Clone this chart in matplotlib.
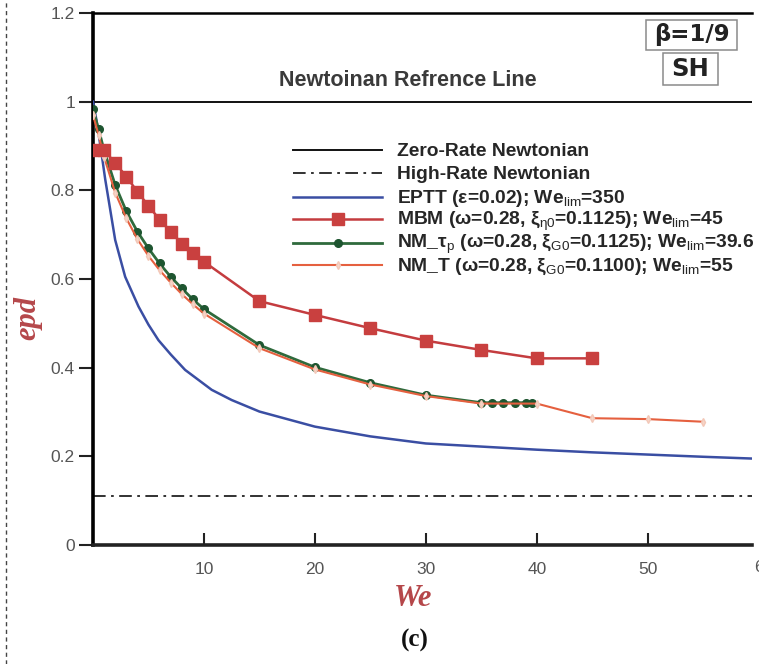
import matplotlib
matplotlib.use("Agg")
import matplotlib.pyplot as plt
from matplotlib.lines import Line2D
from matplotlib.patches import Rectangle

plt.rcParams['mathtext.fontset'] = 'custom'
plt.rcParams['mathtext.rm'] = 'Liberation Sans'
plt.rcParams['mathtext.it'] = 'Liberation Sans:italic'
plt.rcParams['mathtext.bf'] = 'Liberation Sans:bold'
plt.rcParams['font.family'] = ['Liberation Sans', 'DejaVu Sans']

# ---------------- data ----------------
eptt_we = [0, 0.3, 0.55, 0.81, 1.1, 1.41, 2.0, 2.9, 4.1, 5.0, 5.9, 7.0, 8.3, 10.7, 12.5,
           15, 20, 25, 30, 35, 40, 45, 50, 55, 59.4]
eptt_epd = [1.0, 0.96, 0.92, 0.876, 0.825, 0.778, 0.688, 0.605, 0.538, 0.497, 0.462,
            0.43, 0.395, 0.35, 0.327, 0.301, 0.267, 0.245, 0.229, 0.222, 0.215, 0.209,
            0.204, 0.199, 0.195]

mbm_we = [0, 1, 2, 3, 4, 5, 6, 7, 8, 9, 10, 15, 20, 25, 30, 35, 40, 45]
mbm_epd = [0.89, 0.89, 0.862, 0.831, 0.797, 0.765, 0.734, 0.707, 0.68, 0.659, 0.639,
           0.55, 0.519, 0.489, 0.461, 0.44, 0.421, 0.421]

nmtp_we = [0, 0.5, 1, 2, 3, 4, 5, 6, 7, 8, 9, 10, 15, 20, 25, 30, 35, 36, 37, 38, 39, 39.6]
nmtp_epd = [0.983, 0.938, 0.89, 0.812, 0.753, 0.707, 0.669, 0.635, 0.605, 0.579, 0.554,
            0.532, 0.451, 0.401, 0.366, 0.338, 0.321, 0.321, 0.321, 0.321, 0.321, 0.321]

nmt_we = [0, 0.5, 1, 2, 3, 4, 5, 6, 7, 8, 9, 10, 15, 20, 25, 30, 35, 40, 45, 50, 55]
nmt_epd = [0.97, 0.925, 0.875, 0.795, 0.737, 0.69, 0.652, 0.62, 0.592, 0.566, 0.543,
           0.522, 0.444, 0.396, 0.362, 0.336, 0.319, 0.319, 0.286, 0.284, 0.278]

zero_rate = 1.0
high_rate = 1 / 9

x_ticks = [10, 20, 30, 40, 50]
y_ticks = [0, 0.2, 0.4, 0.6, 0.8, 1.0, 1.2]
y_tick_labels = ['0', '0.2', '0.4', '0.6', '0.8', '1', '1.2']

labels = [
    'Zero-Rate Newtonian',
    'High-Rate Newtonian',
    r'EPTT (ε=0.02); We$_{\rm lim}$=350',
    r'MBM (ω=0.28, ξ$_{\rm η0}$=0.1125); We$_{\rm lim}$=45',
    r'NM_τ$_{\rm p}$ (ω=0.28, ξ$_{\rm G0}$=0.1125); We$_{\rm lim}$=39.6',
    r'NM_T (ω=0.28, ξ$_{\rm G0}$=0.1100); We$_{\rm lim}$=55',
]

# ---------------- styles ----------------
st_zero = dict(color='#111111', lw=1.4)
st_high = dict(color='#222222', lw=1.3, linestyle=(0, (7, 3, 1.5, 3)))
st_eptt = dict(color='#3a4ea3', lw=1.8)
st_mbm = dict(color='#c43c3f', lw=1.8, marker='s', ms=8, mfc='#c9403f', mec='#c9403f')
st_nmtp = dict(color='#2f6a3c', lw=2.0, marker='o', ms=5.5, mfc='#1e5530', mec='#1e5530')
st_nmt = dict(color='#e5603f', lw=1.5, marker='d', ms=4, mfc='#f6d5c8', mec='#f3c8b8')

W, H = 759, 664
fig = plt.figure(figsize=(W / 100, H / 100), dpi=100)
ax = fig.add_axes([93 / W, 1 - 545 / H, (752 - 93) / W, (545 - 13) / H])

ax.axhline(zero_rate, zorder=2, **st_zero)
ax.axhline(high_rate, zorder=2, **st_high)
ax.plot(eptt_we, eptt_epd, zorder=3, **st_eptt)
ax.plot(mbm_we, mbm_epd, zorder=4, **st_mbm)
ax.plot(nmt_we, nmt_epd, zorder=3.5, **st_nmt)
ax.plot(nmtp_we, nmtp_epd, zorder=3.4, **st_nmtp)

ax.set_xlim(0, 59.4)
ax.set_ylim(0, 1.2)

ax.spines['right'].set_visible(False)
ax.spines['left'].set_linewidth(2.6)
ax.spines['bottom'].set_linewidth(2.6)
ax.spines['top'].set_linewidth(1.8)
ax.spines['bottom'].set_color('#222222')

ax.set_xticks(x_ticks)
ax.set_yticks(y_ticks)
ax.set_yticklabels(y_tick_labels)
ax.tick_params(axis='x', direction='in', length=9, width=1.5, pad=12,
               labelsize=12.5, labelcolor='#555555', color='#222222')
ax.tick_params(axis='y', direction='out', length=10, width=1.5, pad=3,
               labelsize=12.5, labelcolor='#555555', color='#222222')
ax.text(60.5, -0.05, '60', ha='center', va='center', fontsize=12.5,
        color='#555555', clip_on=False)

# reference-line caption
title = fig.text(408 / W, 1 - 80 / H, 'Newtoinan Refrence Line', fontsize=13,
                 color='#3a3a3a', fontweight='bold', ha='center', va='center')

# manual legend
row_y = [150, 173.3, 196.7, 219.3, 242.7, 265]
base_y = [156, 179.3, 202.7, 225, 248.3, 270.7]
styles = [st_zero, st_high, st_eptt, st_mbm, st_nmtp, st_nmt]
leg_texts = []
for st, lab, yl, yb in zip(styles, labels, row_y, base_y):
    fig.add_artist(Line2D([293 / W, 337.5 / W, 382 / W], [1 - yl / H] * 3,
                          transform=fig.transFigure, markevery=[1], **st))
    leg_texts.append(fig.text(397 / W, 1 - yb / H, lab, fontsize=13, fontweight='bold',
                              color='#262626', ha='left', va='baseline'))

# beta / SH boxes
for (x0, y0, x1, y1) in [(646, 20, 737, 50), (663, 53, 718, 85)]:
    fig.add_artist(Rectangle((x0 / W, 1 - y1 / H), (x1 - x0) / W, (y1 - y0) / H,
                             transform=fig.transFigure, fc='white', ec='#8a8a8a', lw=1.1))
fig.text(691.5 / W, 1 - 35 / H, 'β=1/9', fontsize=16.5, fontweight='bold', color='#222222',
         family=['DejaVu Sans'], ha='center', va='center')
fig.text(690.5 / W, 1 - 69.5 / H, 'SH', fontsize=17.5, fontweight='bold', color='#222222',
         family=['DejaVu Sans'], ha='center', va='center')

# axis labels
fig.text(28 / W, 1 - 318 / H, 'epd', fontsize=22, fontweight='bold', fontstyle='italic',
         family='Liberation Serif', color='#b5474a', rotation=90, ha='center', va='center')
fig.text(413 / W, 1 - 598 / H, 'We', fontsize=22, fontweight='bold', fontstyle='italic',
         family='Liberation Serif', color='#b5474a', ha='center', va='center')
fig.text(415 / W, 1 - 640 / H, '(c)', fontsize=18, fontweight='bold',
         family='Liberation Serif', color='#111111', ha='center', va='center')

# scan edge dashed line
fig.add_artist(Line2D([6 / W, 6 / W], [0, 1], transform=fig.transFigure,
                      color='#444444', lw=1.0, linestyle=(0, (3, 2.5))))

# fit text widths to the reference layout
fig.canvas.draw()
r = fig.canvas.get_renderer()


def fit(t, target):
    w = t.get_window_extent(r).width
    t.set_fontsize(t.get_fontsize() * target / w)


fit(title, 257)
w0 = leg_texts[0].get_window_extent(r).width
fs = 13 * 192 / w0
for t in leg_texts:
    t.set_fontsize(fs)

fig.savefig('out.png', dpi=100)
